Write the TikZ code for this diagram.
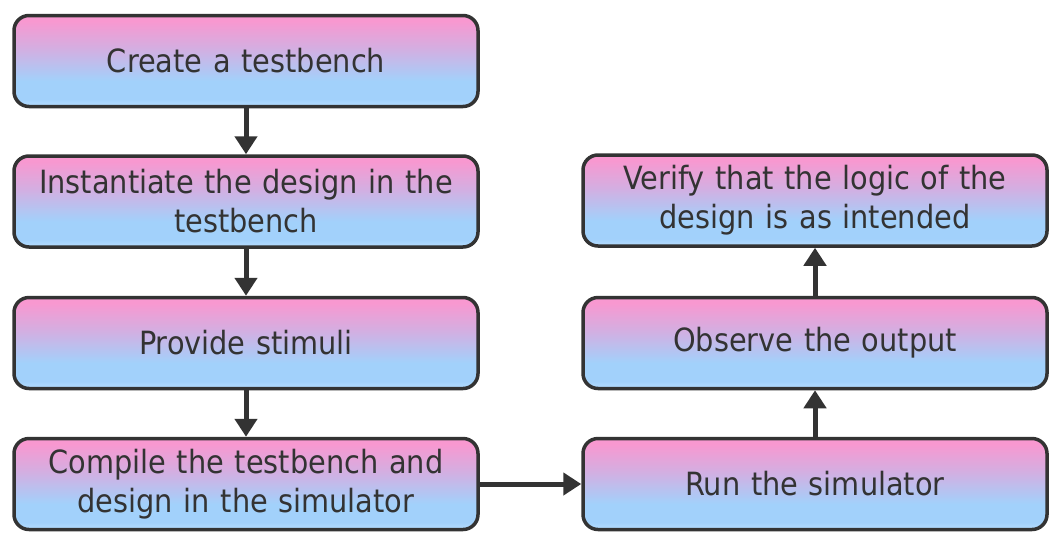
\documentclass[tikz,border=0pt]{standalone}
\usepackage{fontspec}
\setmainfont{DejaVu Sans Condensed}
\usetikzlibrary{arrows.meta}
\definecolor{pinktop}{HTML}{F898D0}
\definecolor{pinkmid}{HTML}{D4AEE1}
\definecolor{bluelow}{HTML}{A2D1FB}
\definecolor{bluebot}{HTML}{B6DDFF}
\definecolor{ink}{HTML}{333333}
\pgfdeclareverticalshading{boxshade}{100bp}{color(0bp)=(bluebot); color(25bp)=(bluebot); color(29bp)=(bluelow); color(39bp)=(bluelow); color(57bp)=(pinkmid); color(72bp)=(pinktop); color(100bp)=(pinktop)}
\tikzset{
  stepbox/.style={draw=ink, line width=3.5pt, rounded corners=15pt, shade, shading=boxshade,
    minimum width=464pt, minimum height=91pt, inner sep=0pt, text width=450pt, align=center,
    text=ink, font=\fontsize{32pt}{39pt}\selectfont},
  flow/.style={draw=ink, line width=5pt, -{Triangle[length=18pt,width=22pt]}}
}
\begin{document}
\begin{tikzpicture}[x=1pt,y=-1pt]
\useasboundingbox (0,0) rectangle (1064,552);
\node[stepbox] (a) at (246,61) {Create a testbench};
\node[stepbox] (b) at (246,201.5) {Instantiate the design in the\\testbench};
\node[stepbox] (c) at (246,343) {Provide stimuli};
\node[stepbox] (d) at (246,484) {Compile the testbench and\\design in the simulator};
\node[stepbox] (e) at (815,484) {Run the simulator};
\node[stepbox] (f) at (815,343) {Observe the output};
\node[stepbox] (g) at (815,200.5) {Verify that the logic of the\\design is as intended};
\draw[flow] (a) -- (b);
\draw[flow] (b) -- (c);
\draw[flow] (c) -- (d);
\draw[flow] (d) -- (e);
\draw[flow] (e) -- (f);
\draw[flow] (f) -- (g);
\end{tikzpicture}
\end{document}
